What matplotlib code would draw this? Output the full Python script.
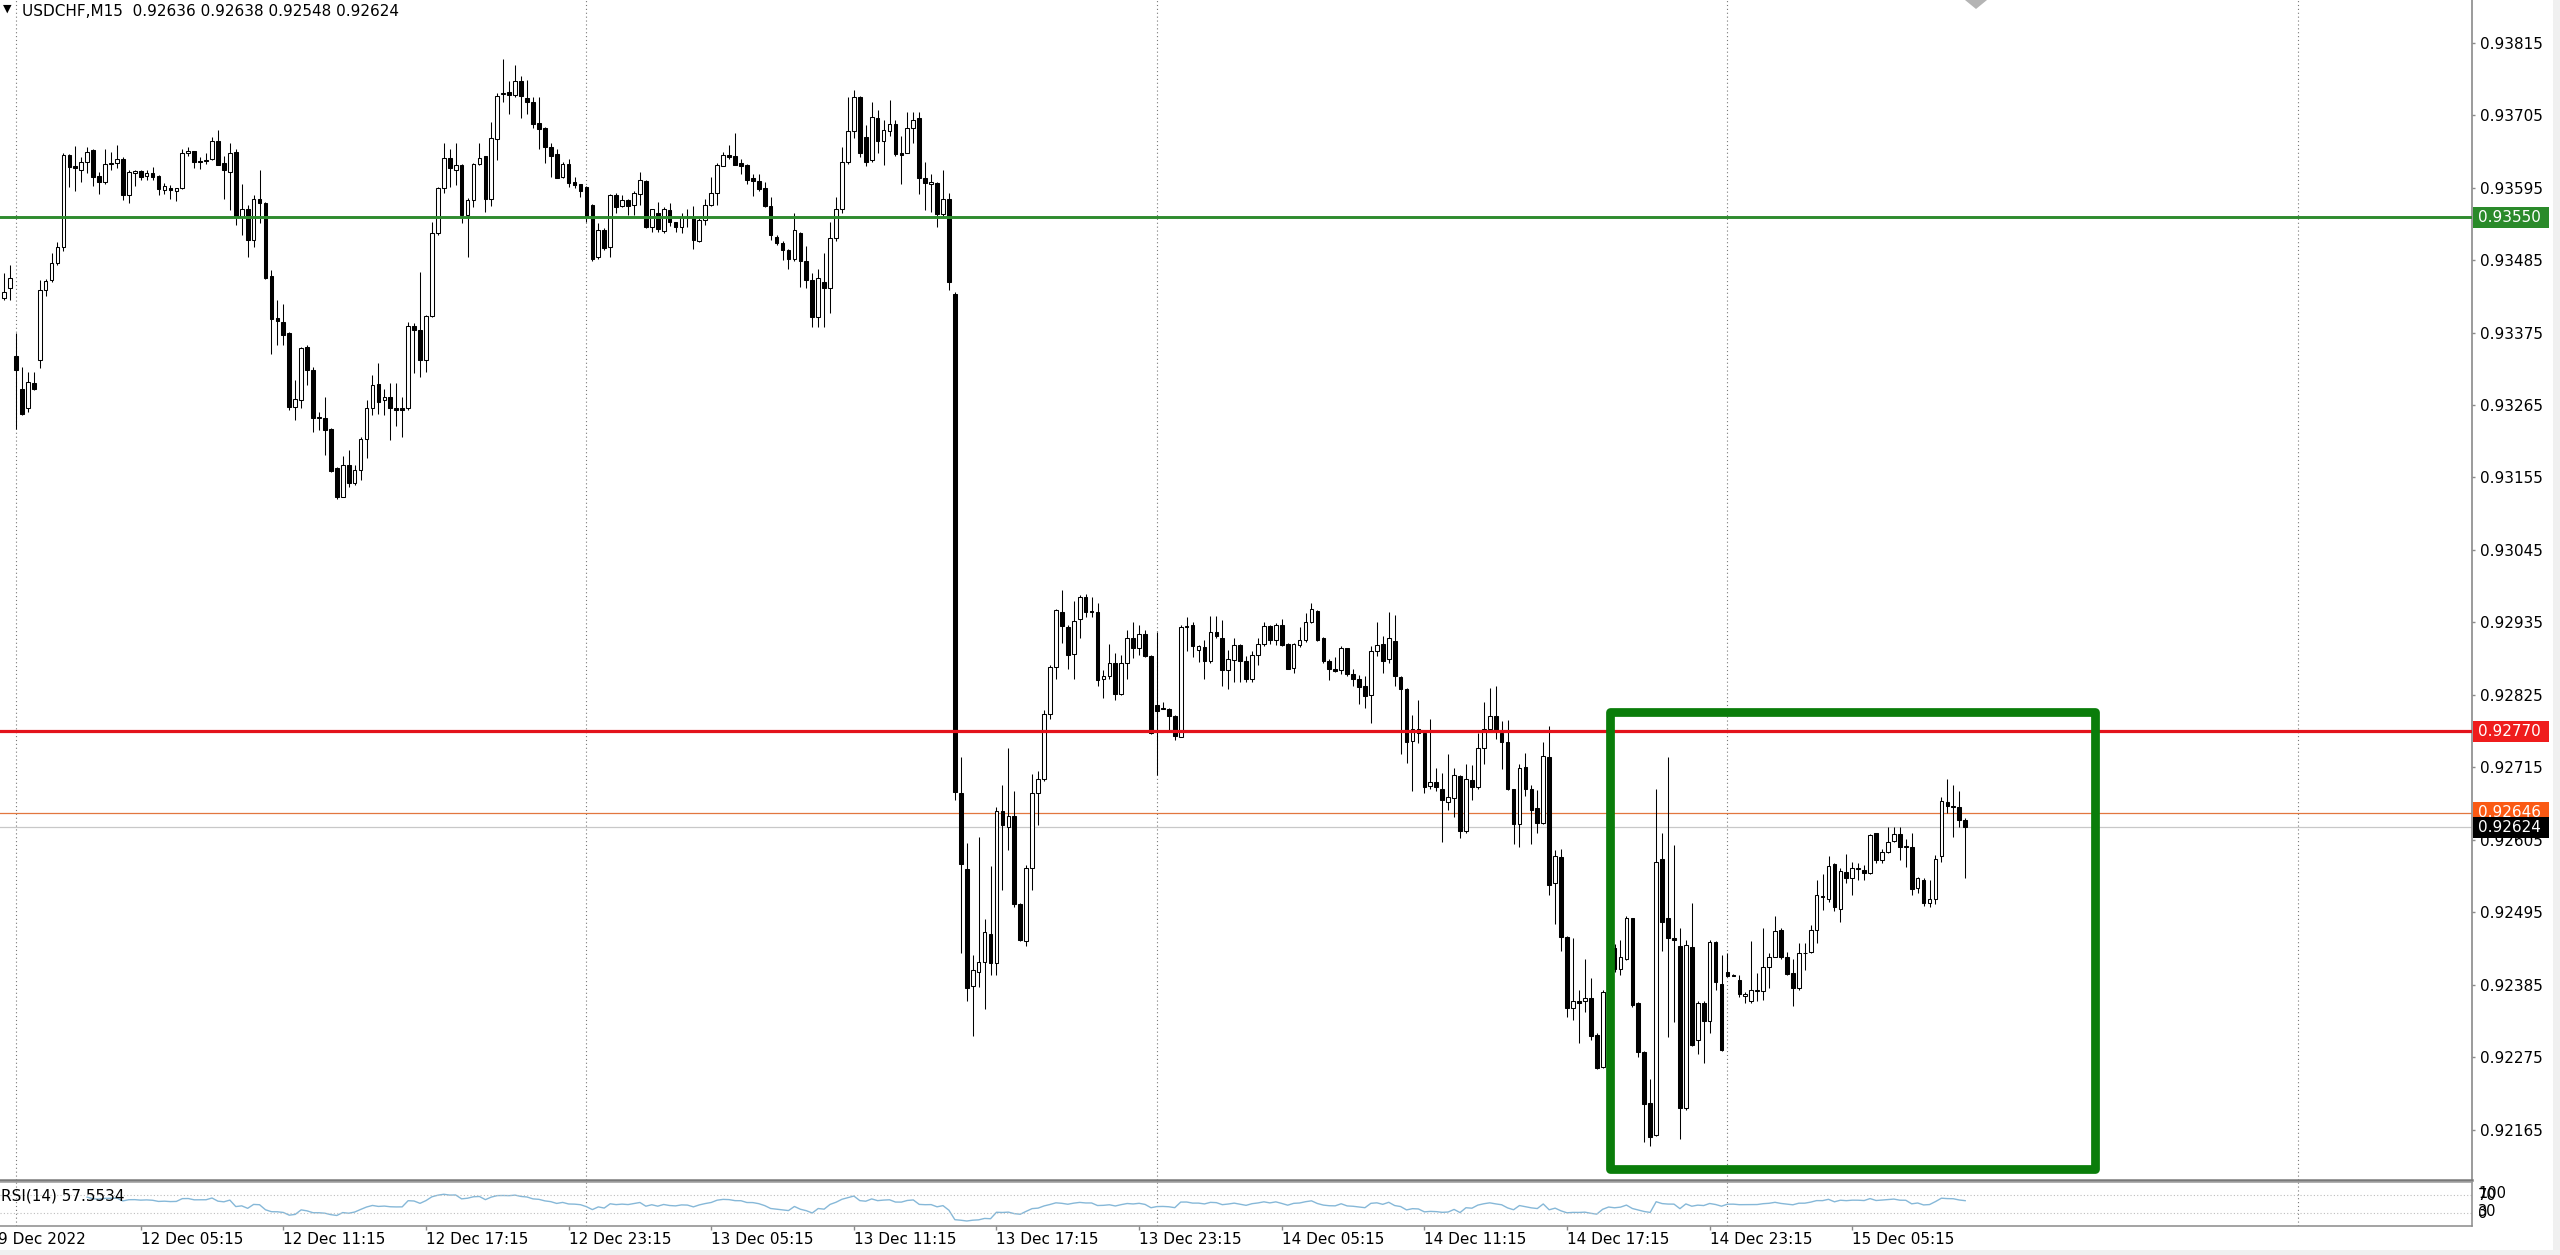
import numpy as np
import pandas as pd
import matplotlib
matplotlib.use("Agg")
import matplotlib.pyplot as plt
from matplotlib.patches import Rectangle, Polygon
from matplotlib.transforms import blended_transform_factory

plt.rcParams['font.family'] = ['DejaVu Sans']

symbol = "USDCHF,M15"

# M15 bars, prices in points (1 point = 0.00001)
opens = [
    93427, 93442, 93339, 93290, 93260, 93298, 93334, 93440, 93455, 93480,
    93505, 93644, 93628, 93621, 93633, 93652, 93612, 93604, 93630, 93632,
    93639, 93583, 93617, 93620, 93612, 93617, 93612, 93591, 93595, 93590,
    93594, 93648, 93650, 93635, 93636, 93639, 93666, 93632, 93619, 93649,
    93551, 93563, 93515, 93577, 93572, 93460, 93397, 93391, 93374, 93262,
    93272, 93353, 93318, 93246, 93245, 93229, 93169, 93126, 93174, 93147,
    93167, 93213, 93261, 93297, 93272, 93277, 93261, 93260, 93260, 93385,
    93379, 93333, 93400, 93526, 93594, 93640, 93621, 93629, 93553, 93576,
    93630, 93643, 93577, 93668, 93737, 93740, 93735, 93757, 93731, 93725,
    93693, 93685, 93657, 93646, 93611, 93630, 93603, 93600, 93596, 93568,
    93490, 93530, 93505, 93584, 93567, 93576, 93568, 93585, 93605, 93535,
    93556, 93529, 93561, 93542, 93535, 93549, 93551, 93514, 93545, 93568,
    93586, 93628, 93644, 93643, 93632, 93629, 93610, 93605, 93595, 93567,
    93520, 93511, 93500, 93487, 93526, 93484, 93455, 93399, 93452, 93443,
    93519, 93562, 93633, 93680, 93732, 93671, 93637, 93700, 93666, 93681,
    93691, 93647, 93648, 93685, 93701, 93609, 93601, 93602, 93555, 93577,
    93433, 92677, 92561, 92383, 92405, 92420, 92462, 92418, 92649, 92625,
    92642, 92508, 92452, 92563, 92676, 92698, 92796, 92867, 92951, 92928,
    92887, 92940, 92974, 92952, 92951, 92849, 92854, 92874, 92827, 92873,
    92912, 92897, 92917, 92884, 92810, 92806, 92803, 92793, 92762, 92928,
    92931, 92893, 92898, 92877, 92921, 92912, 92863, 92878, 92901, 92877,
    92850, 92886, 92902, 92929, 92908, 92931, 92902, 92866, 92901, 92908,
    92936, 92953, 92911, 92876, 92864, 92863, 92896, 92857, 92850, 92838,
    92825, 92891, 92902, 92879, 92907, 92852, 92834, 92755, 92773, 92767,
    92687, 92693, 92683, 92663, 92668, 92702, 92618, 92696, 92686, 92744,
    92774, 92793, 92767, 92754, 92682, 92629, 92716, 92682, 92653, 92631,
    92731, 92539, 92579, 92458, 92350, 92360, 92360, 92365, 92309, 92260,
    92375, 92441, 92410, 92425, 92486, 92357, 92284, 92206, 92158, 92576,
    92486, 92457, 92444, 92198, 92443, 92301, 92357, 92331, 92450, 92386,
    92404, 92400, 92392, 92369, 92360, 92376, 92376, 92412, 92428, 92469,
    92428, 92403, 92380, 92433, 92435, 92468, 92519, 92516, 92568, 92501,
    92557, 92547, 92561, 92560, 92555, 92615, 92575, 92587, 92603, 92614,
    92595, 92594, 92532, 92545, 92509, 92516, 92581, 92662, 92657, 92655,
    92636,
]
highs = [
    93465, 93478, 93374, 93323, 93315, 93315, 93455, 93456, 93495, 93513,
    93647, 93646, 93658, 93642, 93657, 93654, 93619, 93653, 93649, 93660,
    93641, 93621, 93622, 93621, 93621, 93626, 93614, 93602, 93599, 93595,
    93654, 93656, 93651, 93641, 93647, 93671, 93683, 93643, 93662, 93654,
    93601, 93568, 93584, 93621, 93573, 93470, 93424, 93418, 93376, 93303,
    93353, 93356, 93323, 93255, 93277, 93230, 93171, 93188, 93197, 93174,
    93217, 93272, 93310, 93328, 93290, 93298, 93298, 93277, 93391, 93389,
    93467, 93401, 93543, 93596, 93663, 93654, 93662, 93630, 93579, 93632,
    93663, 93643, 93695, 93739, 93790, 93757, 93781, 93764, 93758, 93733,
    93733, 93687, 93662, 93654, 93634, 93639, 93611, 93601, 93597, 93570,
    93541, 93533, 93585, 93586, 93584, 93578, 93589, 93619, 93606, 93563,
    93573, 93566, 93571, 93543, 93556, 93562, 93567, 93548, 93577, 93611,
    93632, 93649, 93659, 93677, 93639, 93630, 93616, 93615, 93604, 93581,
    93523, 93514, 93501, 93557, 93528, 93506, 93465, 93472, 93495, 93543,
    93581, 93656, 93733, 93743, 93734, 93690, 93725, 93712, 93697, 93728,
    93697, 93673, 93709, 93710, 93709, 93634, 93616, 93604, 93621, 93586,
    93436, 92731, 92600, 92430, 92610, 92485, 92565, 92655, 92688, 92744,
    92680, 92509, 92567, 92705, 92709, 92802, 92870, 92956, 92984, 92931,
    92967, 92977, 92978, 92974, 92964, 92863, 92903, 92889, 92886, 92924,
    92935, 92931, 92924, 92886, 92921, 92815, 92805, 92795, 92931, 92944,
    92935, 92901, 92909, 92945, 92945, 92939, 92894, 92911, 92902, 92884,
    92892, 92911, 92935, 92931, 92934, 92941, 92904, 92904, 92928, 92949,
    92965, 92954, 92913, 92879, 92882, 92899, 92897, 92864, 92855, 92854,
    92899, 92936, 92914, 92951, 92946, 92854, 92835, 92795, 92817, 92769,
    92788, 92714, 92707, 92736, 92714, 92704, 92721, 92719, 92768, 92815,
    92835, 92838, 92785, 92787, 92683, 92721, 92737, 92688, 92681, 92754,
    92778, 92590, 92592, 92459, 92456, 92377, 92425, 92395, 92312, 92377,
    92450, 92447, 92454, 92490, 92487, 92359, 92285, 92243, 92683, 92615,
    92731, 92597, 92471, 92453, 92509, 92360, 92360, 92454, 92451, 92430,
    92434, 92401, 92400, 92375, 92451, 92403, 92471, 92433, 92490, 92471,
    92435, 92425, 92448, 92448, 92476, 92545, 92554, 92580, 92570, 92562,
    92584, 92572, 92570, 92567, 92614, 92616, 92591, 92625, 92625, 92625,
    92606, 92616, 92549, 92547, 92545, 92582, 92670, 92698, 92688, 92680,
    92638,
]
lows = [
    93424, 93425, 93229, 93250, 93255, 93288, 93321, 93430, 93452, 93477,
    93498, 93596, 93589, 93604, 93617, 93597, 93585, 93600, 93622, 93624,
    93576, 93572, 93597, 93607, 93607, 93607, 93584, 93585, 93577, 93575,
    93592, 93643, 93624, 93623, 93631, 93637, 93629, 93577, 93561, 93538,
    93523, 93490, 93505, 93541, 93456, 93343, 93356, 93356, 93257, 93242,
    93260, 93295, 93224, 93227, 93189, 93164, 93123, 93126, 93141, 93143,
    93151, 93184, 93250, 93252, 93250, 93212, 93233, 93217, 93257, 93313,
    93308, 93315, 93399, 93523, 93586, 93596, 93599, 93541, 93490, 93566,
    93629, 93558, 93567, 93637, 93725, 93707, 93733, 93700, 93707, 93686,
    93653, 93632, 93611, 93609, 93609, 93596, 93594, 93581, 93543, 93484,
    93487, 93500, 93490, 93557, 93566, 93553, 93553, 93568, 93533, 93528,
    93528, 93526, 93537, 93528, 93526, 93535, 93501, 93513, 93538, 93567,
    93568, 93627, 93639, 93629, 93615, 93600, 93582, 93589, 93566, 93515,
    93508, 93485, 93472, 93484, 93444, 93442, 93383, 93383, 93383, 93404,
    93514, 93557, 93631, 93670, 93642, 93628, 93633, 93647, 93629, 93673,
    93643, 93601, 93647, 93662, 93585, 93561, 93558, 93535, 93548, 93439,
    92665, 92433, 92360, 92307, 92382, 92348, 92400, 92400, 92529, 92590,
    92503, 92451, 92444, 92529, 92628, 92695, 92789, 92850, 92904, 92865,
    92849, 92911, 92943, 92944, 92838, 92821, 92850, 92817, 92825, 92850,
    92881, 92886, 92882, 92766, 92704, 92804, 92769, 92757, 92761, 92891,
    92882, 92875, 92849, 92873, 92911, 92838, 92834, 92845, 92844, 92845,
    92844, 92870, 92899, 92902, 92901, 92899, 92864, 92859, 92898, 92906,
    92934, 92907, 92874, 92848, 92860, 92857, 92854, 92838, 92812, 92806,
    92783, 92884, 92859, 92874, 92839, 92736, 92722, 92680, 92752, 92677,
    92682, 92680, 92602, 92650, 92640, 92608, 92615, 92666, 92683, 92721,
    92772, 92758, 92712, 92681, 92599, 92594, 92671, 92599, 92616, 92630,
    92522, 92478, 92436, 92337, 92332, 92297, 92344, 92302, 92257, 92259,
    92360, 92405, 92400, 92423, 92352, 92276, 92147, 92141, 92156, 92436,
    92306, 92329, 92152, 92195, 92292, 92281, 92266, 92312, 92377, 92285,
    92397, 92398, 92367, 92358, 92358, 92361, 92362, 92380, 92427, 92425,
    92400, 92353, 92378, 92408, 92434, 92449, 92499, 92511, 92498, 92481,
    92540, 92521, 92545, 92544, 92554, 92570, 92570, 92585, 92602, 92575,
    92564, 92521, 92524, 92505, 92504, 92508, 92571, 92646, 92610, 92625,
    92548,
]
closes = [
    93437, 93457, 93318, 93252, 93300, 93290, 93440, 93453, 93480, 93505,
    93644, 93626, 93624, 93633, 93649, 93611, 93604, 93630, 93632, 93639,
    93583, 93618, 93620, 93611, 93617, 93611, 93592, 93597, 93591, 93594,
    93648, 93650, 93634, 93634, 93635, 93665, 93629, 93621, 93648, 93552,
    93563, 93515, 93578, 93572, 93457, 93396, 93393, 93371, 93262, 93274,
    93352, 93318, 93245, 93245, 93227, 93165, 93126, 93174, 93147, 93167,
    93213, 93261, 93295, 93270, 93277, 93261, 93257, 93258, 93385, 93379,
    93333, 93400, 93526, 93594, 93640, 93624, 93629, 93553, 93576, 93630,
    93640, 93577, 93670, 93734, 93739, 93736, 93757, 93734, 93725, 93692,
    93684, 93657, 93643, 93610, 93631, 93602, 93599, 93589, 93552, 93486,
    93530, 93503, 93584, 93566, 93576, 93567, 93586, 93606, 93535, 93562,
    93532, 93563, 93542, 93535, 93551, 93548, 93516, 93546, 93568, 93586,
    93629, 93645, 93642, 93629, 93628, 93606, 93605, 93592, 93567, 93523,
    93511, 93500, 93487, 93531, 93484, 93455, 93399, 93457, 93443, 93519,
    93562, 93633, 93680, 93733, 93647, 93634, 93702, 93666, 93682, 93691,
    93646, 93645, 93685, 93698, 93609, 93602, 93604, 93555, 93577, 93451,
    92678, 92569, 92381, 92408, 92420, 92465, 92418, 92649, 92628, 92642,
    92508, 92453, 92562, 92676, 92697, 92796, 92867, 92954, 92930, 92886,
    92938, 92974, 92951, 92951, 92847, 92854, 92874, 92827, 92873, 92912,
    92897, 92918, 92884, 92767, 92800, 92804, 92793, 92763, 92928, 92930,
    92899, 92899, 92877, 92921, 92914, 92863, 92879, 92901, 92876, 92849,
    92886, 92903, 92929, 92908, 92931, 92901, 92865, 92902, 92909, 92936,
    92955, 92908, 92877, 92864, 92862, 92897, 92857, 92850, 92837, 92823,
    92892, 92901, 92876, 92912, 92854, 92834, 92754, 92774, 92767, 92686,
    92693, 92686, 92666, 92670, 92704, 92618, 92697, 92685, 92744, 92773,
    92793, 92772, 92754, 92682, 92630, 92714, 92683, 92651, 92631, 92732,
    92537, 92580, 92458, 92350, 92360, 92358, 92365, 92307, 92259, 92375,
    92440, 92410, 92428, 92487, 92355, 92284, 92205, 92154, 92572, 92481,
    92456, 92453, 92198, 92446, 92294, 92357, 92331, 92450, 92390, 92286,
    92398, 92399, 92371, 92372, 92377, 92377, 92412, 92428, 92467, 92428,
    92402, 92380, 92433, 92434, 92468, 92521, 92520, 92566, 92504, 92558,
    92547, 92563, 92562, 92555, 92613, 92575, 92587, 92602, 92614, 92595,
    92594, 92530, 92547, 92509, 92516, 92576, 92664, 92657, 92655, 92635,
    92624,
]

# horizontal levels on the chart
green_level = 0.93550
red_level = 0.92770
ask_level = 0.92646
bid_level = 0.92624

# rectangle object: bar positions and prices
box_left, box_right = 270.2, 351.8
box_low, box_high = 0.92106, 0.92799

# price scale ticks
price_ticks = [0.93815, 0.93705, 0.93595, 0.93485, 0.93375, 0.93265, 0.93155,
               0.93045, 0.92935, 0.92825, 0.92715, 0.92605, 0.92495, 0.92385,
               0.92275, 0.92165]
rsi_label = "RSI(14) 57.5534"

o = np.array(opens) / 1e5
h = np.array(highs) / 1e5
l = np.array(lows) / 1e5
c = np.array(closes) / 1e5
n = len(c)
x = np.arange(n)

# bar times: two Friday bars, then Monday onwards
times = pd.DatetimeIndex(["2022-12-09 23:30", "2022-12-09 23:45"]).append(
    pd.date_range("2022-12-12 00:00", periods=n - 2, freq="15min"))

# RSI(14), Wilder smoothing
diff = np.diff(c, prepend=c[0])
gain = np.clip(diff, 0, None)
loss = np.clip(-diff, 0, None)
ag = np.full(n, np.nan)
al = np.full(n, np.nan)
ag[14] = gain[1:15].mean()
al[14] = loss[1:15].mean()
for i in range(15, n):
    ag[i] = (ag[i - 1] * 13 + gain[i]) / 14
    al[i] = (al[i - 1] * 13 + loss[i]) / 14
rsi = 100 - 100 / (1 + ag / al)

W, H = 2560, 1255
fig = plt.figure(figsize=(W / 100, H / 100), dpi=100)
fig.patch.set_facecolor("white")
ax = fig.add_axes([0, 75 / H, 2472 / W, 1180 / H])
ax2 = fig.add_axes([0, 29 / H, 2472 / W, 44 / H])

step = 5.943
xlim = (-4 / step, (2472 - 4) / step)

# grid at midnights
for b in range(2, 420, 96):
    ax.axvline(b, color="#777777", lw=0.8, ls=(0, (1, 2.5)), zorder=0)
    ax2.axvline(b, color="#777777", lw=0.8, ls=(0, (1, 2.5)), zorder=0)

ax.axhline(bid_level, color="#c8c8c8", lw=0.9, zorder=1)
ax.axhline(ask_level, color="#e2773f", lw=0.9, zorder=1)

# candles
up = c >= o
ax.vlines(x, l, h, color="black", lw=0.75, zorder=2)
body = np.maximum(np.abs(c - o), 0.000012)
ax.bar(x, body, bottom=np.minimum(o, c), width=0.62,
       color=np.where(up, "white", "black"), edgecolor="black",
       linewidth=0.75, zorder=3)

ax.axhline(green_level, color="#2e8b2e", lw=2.1, zorder=4)
ax.axhline(red_level, color="#e3121b", lw=2.3, zorder=4)

ax.add_patch(Rectangle((box_left, box_low), box_right - box_left, box_high - box_low,
                       fill=False, ec="#0a7d0a", lw=6.3, joinstyle="round", zorder=5))

ax.set_xlim(*xlim)
ax.set_ylim(0.920891, 0.938795)
ax.set_xticks([])
ax.yaxis.tick_right()
ax.set_yticks(price_ticks)
ax.set_yticklabels([f"{t:.5f}" for t in price_ticks])
ax.tick_params(axis="y", direction="out", length=2.2, width=1, color="#8a8a8a",
               pad=3.5, labelsize=11, labelcolor="black")
for s in ("left", "top"):
    ax.spines[s].set_visible(False)
ax.spines["right"].set_color("#8a8a8a")
ax.spines["right"].set_linewidth(1.2)
ax.spines["bottom"].set_color("#7a7a7a")
ax.spines["bottom"].set_linewidth(1.8)

# price boxes on the scale
tr = blended_transform_factory(fig.transFigure, ax.transData)
hh = 10.5 / 65907
for lvl, col in [(green_level, "#2a8a2a"), (red_level, "#ef1c1c"),
                 (ask_level, "#fa5a14"), (bid_level, "black")]:
    ax.add_patch(Rectangle((2473 / W, lvl - hh), 76 / W, 2 * hh, transform=tr,
                           fc=col, ec="none", clip_on=False, zorder=6))
    ax.text(2478 / W, lvl, f"{lvl:.5f}", transform=tr, color="white", fontsize=11,
            va="center", ha="left", clip_on=False, zorder=6)
ax.set_xlim(*xlim)
ax.set_ylim(0.920891, 0.938795)

# RSI window
ax2.plot(x, rsi, color="#86b8d8", lw=1)
ax2.axhline(70, color="#bdbdbd", lw=0.8, ls=(0, (1, 2)))
ax2.axhline(30, color="#bdbdbd", lw=0.8, ls=(0, (1, 2)))
ax2.set_xlim(*xlim)
ax2.set_ylim(0, 100)
ax2.set_yticks([])
ax2.spines["left"].set_visible(False)
for s, col in [("top", "#9a9a9a"), ("bottom", "#8a8a8a"), ("right", "#8a8a8a")]:
    ax2.spines[s].set_color(col)
    ax2.spines[s].set_linewidth(1.1)

hm = times.strftime("%H:%M")
tick_idx = [i for i in range(n) if hm[i] in ("05:15", "11:15", "17:15", "23:15")]
ax2.set_xticks(tick_idx)
ax2.set_xticklabels([times[i].strftime("%-d %b %H:%M") for i in tick_idx], ha="left")
ax2.tick_params(axis="x", direction="out", length=3, width=1, color="#8a8a8a",
                pad=1.5, labelsize=11)
fig.text(-2 / W, 1 - 1240 / H, times[0].strftime("%-d %b %Y"), fontsize=11,
         ha="left", va="center")

fig.text(1 / W, 1 - 1196 / H, rsi_label, fontsize=11, ha="left", va="center")
# the small RSI window squeezes its scale labels together
for txt, yy in [("100", 1193), ("70", 1196), ("30", 1211), ("0", 1214)]:
    fig.text(2478 / W, 1 - yy / H, txt, fontsize=10.5, ha="left", va="center")

# header
fig.text(22 / W, 1 - 12 / H,
         f"{symbol}  {o[-1]:.5f} {h[-1]:.5f} {l[-1]:.5f} {c[-1]:.5f}",
         fontsize=11, ha="left", va="center")
fig.text(3 / W, 1 - 9 / H, "\u25bc", fontsize=8, ha="left", va="center")

# shift marker and window edges
fig.add_artist(Polygon([(1965 / W, 1), (1987 / W, 1), (1976 / W, 1 - 9 / H)],
                       closed=True, transform=fig.transFigure, fc="#b4b4b4", ec="none"))
fig.add_artist(Rectangle((0, 0), 1, 5 / H, transform=fig.transFigure,
                         fc="#f0f0f0", ec="none"))
fig.add_artist(Rectangle((2553 / W, 0), 7 / W, 1, transform=fig.transFigure,
                         fc="#f0f0f0", ec="none"))

fig.savefig("out.png", dpi=100)
